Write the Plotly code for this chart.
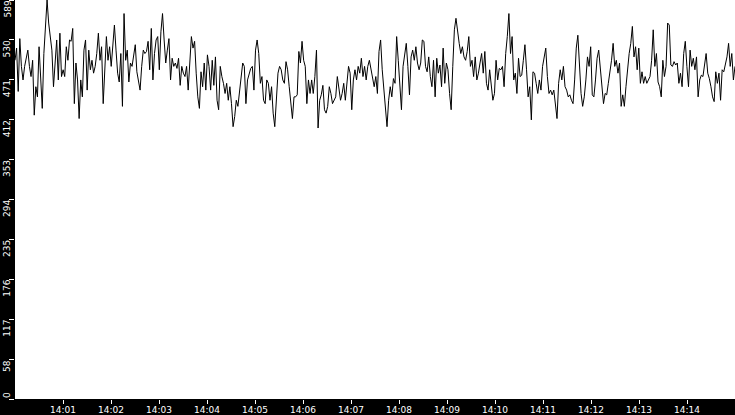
import pandas as pd
import plotly.graph_objects as go

# values, left to right, in six stretches of the time axis
seg1 = [500, 518, 454, 532, 491, 471, 491, 503, 515, 491, 476, 500, 419, 461, 446, 520,
        476, 429, 510, 555, 589, 555, 530, 515, 461, 491, 530, 471, 540, 476, 486, 476,
        520, 500, 530, 528, 547, 436, 496, 471, 414, 471, 446, 515, 530, 456, 515, 486,
        500, 481, 491, 510, 540, 500, 520, 436, 481, 535, 500, 520, 491, 525, 552, 515,
        481, 468, 510, 432, 569, 500, 515, 468, 496, 491, 505, 523]
seg2 = [483, 466, 456, 491, 515, 510, 513, 528, 486, 547, 471, 510, 530, 535, 486, 542,
        569, 530, 496, 515, 532, 471, 503, 491, 496, 488, 503, 463, 491, 481, 476, 491,
        456, 496, 535, 518, 528, 481, 446, 429, 483, 461, 496, 456, 508, 491, 456, 500,
        463, 505, 441, 427, 491, 476, 466, 451, 466, 441, 461, 436, 402, 417, 441, 432,
        451, 471, 496, 491, 436, 471, 481, 488]
seg3 = [491, 456, 515, 530, 510, 466, 476, 441, 436, 471, 466, 441, 461, 422, 402, 451,
        481, 491, 486, 471, 466, 498, 486, 461, 436, 414, 446, 446, 449, 513, 496, 528,
        500, 491, 436, 471, 451, 471, 451, 476, 515, 400, 441, 449, 463, 427, 422, 432,
        461, 451, 436, 441, 446, 476, 461, 441, 451, 466, 441, 471, 491, 481, 427, 471,
        486, 471, 491, 481, 503, 476, 491, 471, 491, 500, 486]
seg4 = [478, 461, 476, 451, 513, 530, 486, 456, 436, 402, 441, 461, 446, 473, 466, 535,
        500, 456, 427, 491, 505, 525, 491, 449, 505, 515, 500, 520, 496, 486, 496, 530,
        528, 491, 483, 505, 476, 461, 500, 446, 503, 481, 493, 461, 518, 466, 496, 486,
        451, 427, 491, 545, 562, 540, 525, 510, 520, 505, 500, 513, 535, 491, 500, 476,
        505, 471, 481, 496, 510, 481, 513, 466, 456, 486, 461]
seg5 = [441, 451, 500, 471, 488, 486, 491, 461, 510, 535, 569, 510, 535, 471, 481, 451,
        503, 476, 478, 500, 523, 486, 446, 461, 412, 483, 481, 466, 451, 471, 456, 491,
        508, 518, 476, 451, 456, 449, 456, 429, 414, 466, 486, 471, 491, 461, 456, 446,
        449, 441, 436, 471, 518, 537, 500, 451, 432, 446, 471, 505, 491, 520, 449, 446,
        471, 503, 515, 491, 463, 436, 451, 449, 466, 481, 500]
seg6 = [525, 491, 500, 481, 496, 432, 449, 432, 461, 491, 510, 525, 550, 505, 520, 486,
        518, 466, 483, 466, 476, 466, 471, 476, 500, 545, 491, 510, 468, 461, 446, 500,
        476, 491, 555, 552, 493, 491, 498, 493, 496, 466, 481, 461, 510, 528, 491, 461,
        515, 491, 503, 486, 505, 446, 471, 478, 476, 496, 510, 481, 473, 461, 446, 439,
        483, 466, 481, 441, 486, 483, 496, 505, 525, 491, 510, 471, 491]

values = seg1 + seg2 + seg3 + seg4 + seg5 + seg6

t_start = "2024-01-01 14:00:00"
t_end = "2024-01-01 14:15:00"
times = pd.date_range(t_start, t_end, periods=len(values))

x_tick_labels = ["14:01", "14:02", "14:03", "14:04", "14:05", "14:06", "14:07",
                 "14:08", "14:09", "14:10", "14:11", "14:12", "14:13", "14:14"]
x_tick_vals = ["2024-01-01 " + s + ":00" for s in x_tick_labels]

y_max = 589
y_tick_vals = [0, 58.9, 117.8, 176.7, 235.6, 294.5, 353.4, 412.3, 471.2, 530.1, 589]
y_tick_labels = ["0", "58", "117", "176", "235", "294", "353", "412", "471", "530", "589"]

fig = go.Figure()
fig.add_trace(go.Scatter(x=times, y=values, mode="lines",
                         line=dict(color="black", width=1), hoverinfo="skip",
                         showlegend=False))

font = dict(family="DejaVu Sans", size=9, color="white")

for v, lab in zip(y_tick_vals, y_tick_labels):
    fig.add_annotation(x=0, xref="paper", xshift=-8, y=v, yref="y",
                       text=lab, textangle=-90, showarrow=False, font=font,
                       xanchor="center", yanchor="bottom" if v == 0 else "top",
                       borderpad=0)

fig.update_layout(
    width=735, height=415,
    margin=dict(l=15, r=0, t=0, b=16, pad=0),
    paper_bgcolor="black", plot_bgcolor="white",
    xaxis=dict(type="date", range=[t_start, t_end], tickvals=x_tick_vals,
               ticktext=x_tick_labels, ticks="outside", ticklen=4, tickwidth=1,
               tickcolor="white", tickfont=font, ticklabelstandoff=-2,
               showgrid=False, zeroline=False, showline=False, automargin=False),
    yaxis=dict(range=[0, y_max], tickvals=y_tick_vals, ticktext=y_tick_labels,
               showticklabels=False, ticks="outside", ticklen=5, tickwidth=1,
               tickcolor="white", showgrid=False, zeroline=False, showline=False,
               automargin=False),
)

fig.write_html("out.html", config={"displayModeBar": False},
               post_script="document.body.style.margin='0';document.body.style.padding='0';"
                           "document.documentElement.style.overflow='hidden';")
